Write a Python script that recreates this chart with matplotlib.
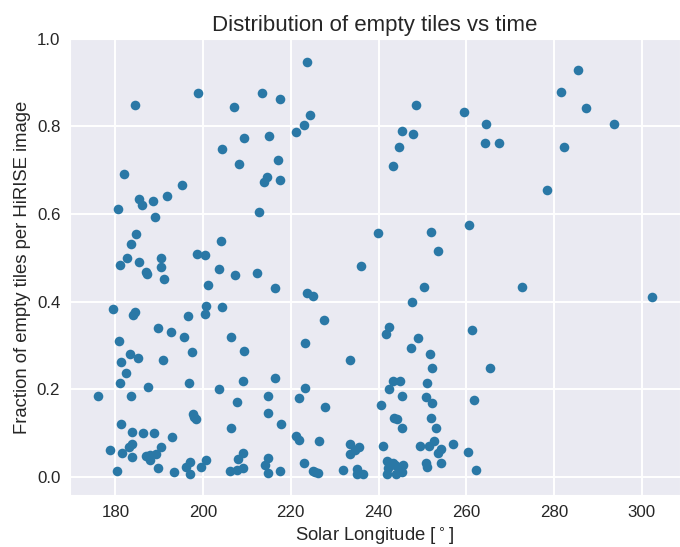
import matplotlib
matplotlib.use('Agg')
import matplotlib.pyplot as plt
import seaborn as sns

# solar longitude [deg] of each HiRISE image
solar_longitude = [
    184.4, 198.9, 207.0, 204.4, 182.0, 195.3, 191.7, 185.5, 186.0, 188.5,
    180.5, 189.0, 184.8, 183.6, 204.2, 182.7, 181.0, 185.5, 190.5, 198.6,
    200.5, 190.5, 203.6, 186.9, 187.3, 191.0, 201.2, 179.5, 184.5, 184.0,
    196.6, 200.7, 200.5, 204.4, 206.3, 189.8, 192.6, 195.7, 180.8, 197.5,
    183.3, 185.1, 190.8, 181.2, 182.4, 181.0, 187.4, 196.8, 203.6, 176.0,
    183.5, 197.6, 198.0, 198.3, 181.2, 183.7, 186.3, 188.9, 192.9, 206.4,
    183.7, 183.2, 178.9, 181.6, 183.9, 190.5, 186.9, 188.0, 189.2, 188.0,
    189.7, 180.4, 193.4, 196.0, 197.1, 197.0, 199.5, 200.7, 206.2,
    223.7, 213.5, 217.6, 224.3, 223.1, 221.1, 215.1, 209.4, 208.2, 217.0,
    214.5, 213.8, 217.6, 212.8, 239.8, 236.0, 207.2, 212.3, 216.3, 223.7,
    225.0, 227.6, 223.3, 209.3, 233.6, 209.2, 216.5, 223.2, 207.7, 214.8,
    221.9, 227.8, 214.9, 217.8, 221.2, 221.8, 226.5, 233.4, 235.5, 234.7,
    233.5, 209.2, 207.9, 214.7, 214.1, 207.7, 209.1, 214.7, 217.6, 223.0,
    225.1, 225.6, 226.1, 232.0, 235.2, 235.1, 236.5,
    248.5, 259.5, 264.5, 245.3, 247.9, 264.2, 267.4, 244.7, 243.3, 251.9,
    260.7, 253.5, 250.3, 272.6, 247.6, 242.5, 241.8, 261.4, 249.0, 247.3,
    251.8, 252.3, 265.5, 243.3, 244.8, 251.0, 242.3, 245.3, 250.8, 252.2,
    261.7, 240.5, 243.5, 244.2, 251.9, 245.3, 253.0, 241.1, 249.5, 251.4,
    252.7, 256.9, 254.3, 253.5, 260.5, 262.3, 254.3, 250.9, 251.0,
    241.9, 242.7, 243.7, 245.5, 242.0, 243.9, 245.3, 244.8, 242.2, 243.2,
    285.5, 281.6, 287.3, 293.6, 282.3, 278.4, 302.4,
]

# fraction of empty tiles in each image
empty_fraction = [
    0.849, 0.876, 0.845, 0.749, 0.691, 0.667, 0.642, 0.634, 0.621, 0.629,
    0.611, 0.593, 0.555, 0.531, 0.539, 0.500, 0.483, 0.491, 0.500, 0.508,
    0.506, 0.478, 0.475, 0.468, 0.462, 0.452, 0.438, 0.384, 0.375, 0.369,
    0.367, 0.390, 0.371, 0.388, 0.320, 0.339, 0.330, 0.319, 0.310, 0.285,
    0.280, 0.271, 0.267, 0.261, 0.236, 0.213, 0.204, 0.213, 0.201, 0.185,
    0.184, 0.142, 0.136, 0.131, 0.120, 0.102, 0.099, 0.099, 0.090, 0.110,
    0.075, 0.068, 0.060, 0.054, 0.044, 0.067, 0.047, 0.049, 0.051, 0.038,
    0.020, 0.012, 0.011, 0.022, 0.034, 0.006, 0.022, 0.038, 0.013,
    0.946, 0.877, 0.862, 0.827, 0.803, 0.787, 0.778, 0.774, 0.715, 0.723,
    0.685, 0.673, 0.678, 0.604, 0.557, 0.480, 0.461, 0.466, 0.430, 0.419,
    0.413, 0.357, 0.305, 0.288, 0.266, 0.219, 0.225, 0.203, 0.171, 0.184,
    0.180, 0.158, 0.146, 0.121, 0.092, 0.083, 0.081, 0.075, 0.068, 0.060,
    0.052, 0.054, 0.041, 0.042, 0.026, 0.016, 0.020, 0.008, 0.012, 0.031,
    0.013, 0.011, 0.009, 0.015, 0.018, 0.005, 0.007,
    0.849, 0.832, 0.806, 0.789, 0.782, 0.762, 0.762, 0.753, 0.709, 0.559,
    0.575, 0.515, 0.433, 0.433, 0.400, 0.341, 0.326, 0.336, 0.317, 0.294,
    0.279, 0.249, 0.249, 0.218, 0.218, 0.214, 0.200, 0.185, 0.181, 0.169,
    0.176, 0.163, 0.135, 0.131, 0.135, 0.110, 0.110, 0.069, 0.069, 0.070,
    0.082, 0.074, 0.062, 0.055, 0.057, 0.014, 0.032, 0.032, 0.022,
    0.035, 0.032, 0.026, 0.027, 0.007, 0.006, 0.010, 0.021, 0.020, 0.030,
    0.928, 0.879, 0.843, 0.806, 0.752, 0.654, 0.411,
]

sns.set_style('darkgrid')
plt.rcParams['font.family'] = ['Liberation Sans', 'DejaVu Sans']
plt.rcParams['grid.linewidth'] = 1.4

fig = plt.figure(figsize=(6.8, 5.47), dpi=100)
ax = fig.add_axes([0.103, 0.095, 0.897, 0.834])

ax.scatter(solar_longitude, empty_fraction, s=48, color='#2a78a6', linewidths=0)
ax.set_ylim(top=1.0)
ax.set_yticks([0.0, 0.2, 0.4, 0.6, 0.8, 1.0])
ax.tick_params(labelsize=12.2)
ax.set_xlabel(r'Solar Longitude [$^\circ$]', fontsize=13.3)
ax.set_ylabel('Fraction of empty tiles per HiRISE image', fontsize=13.3)
ax.set_title('Distribution of empty tiles vs time', fontsize=16)

fig.savefig('out.png', dpi=100)
